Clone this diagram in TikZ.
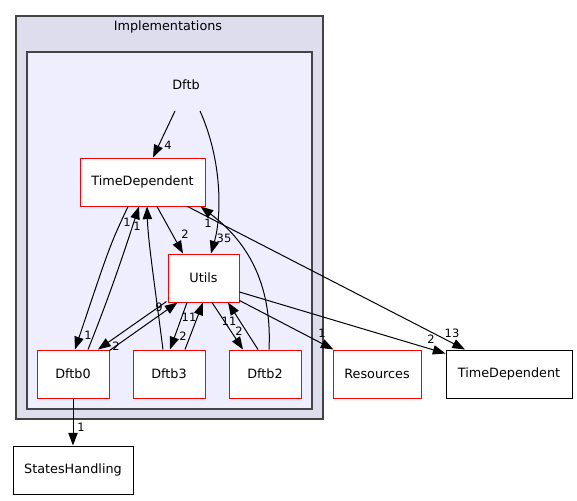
\documentclass[tikz,border=0pt]{standalone}
\usepackage{fontspec}
\setmainfont{DejaVu Sans}
\usetikzlibrary{calc,arrows.meta}
\definecolor{outerfill}{HTML}{DDDDEE}
\definecolor{innerfill}{HTML}{EEEEFF}
\definecolor{clusterline}{HTML}{444444}
\tikzset{
  box/.style={draw=red, fill=white, line width=0.75pt, minimum height=36pt, inner sep=0pt, font=\fontsize{9.6}{11}\selectfont},
  extbox/.style={box, draw=black},
  edge/.style={draw=black, line width=0.75pt, -{Triangle[length=9.5pt,width=7pt]}},
  elabel/.style={font=\fontsize{8.6}{10}\selectfont, inner sep=0pt},
  ctitle/.style={font=\fontsize{9.6}{11}\selectfont, inner sep=0pt}
}
\begin{document}
\begin{tikzpicture}[x=0.75pt,y=-0.75pt]
\useasboundingbox (0,0) rectangle (577,500);
% clusters
\draw[fill=outerfill, draw=clusterline, line width=1.1pt] (16,16) rectangle (323,419);
\node[ctitle] (impl) at (168,27) {Implementations};
\draw[fill=innerfill, draw=clusterline, line width=0.9pt] (27,52) rectangle (312,409);
\node[ctitle] (dftb) at (186,85) {Dftb};
% nodes
\node[box, minimum width=93.75pt] (td) at (142.5,182) {TimeDependent};
\node[box, minimum width=53.25pt] (utils) at (203.5,278) {Utils};
\node[box, minimum width=54pt] (dftb0) at (73,374) {Dftb0};
\node[box, minimum width=54pt] (dftb3) at (169,374) {Dftb3};
\node[box, minimum width=54pt] (dftb2) at (265,374) {Dftb2};
\node[box, minimum width=66pt] (res) at (377,374) {Resources};
\node[extbox, minimum width=94.5pt] (tdo) at (509,374) {TimeDependent};
\node[extbox, minimum width=90pt] (sh) at (73,470) {StatesHandling};
% edges
\draw[edge] ($(dftb)+(-11,26)$) -- ($(td.north)+(10.5,0)$);
\node[elabel] (l4) at (168,145) {4};
\draw[edge] ($(dftb)+(14,26)$) .. controls (222,160) and (222,215) .. ($(utils.north)+(7.5,0)$);
\node[elabel] (l35) at (224,238) {35};
\draw[edge] ($(td.south)+(14.5,0)$) -- ($(utils.north)+(-20.5,0)$);
\node[elabel] (l2a) at (185,234) {2};
\draw[edge] ($(td.south)+(-14.5,0)$) .. controls (110,245) .. ($(dftb0.north)+(2,0)$);
\node[elabel] (l1a) at (88,335) {1};
\draw[edge] ($(dftb0.north)+(15,0)$) .. controls (112,290) and (128,240) .. ($(td.south)+(-3.5,0)$);
\node[elabel] (l1b) at (127,222) {1};
\draw[edge] ($(dftb3.north)+(-6,0)$) .. controls (154,280) and (148,240) .. ($(td.south)+(4.5,0)$);
\node[elabel] (l1c) at (137,226) {1};
\draw[edge] ($(dftb2.north)+(4,0)$) .. controls (272,290) and (252,245) .. ($(td.south east)+(-5,0)$);
\node[elabel] (l1d) at (208,223) {1};
\draw[edge] ($(td.south east)+(-18,0)$) -- ($(tdo.north)+(-44,0)$);
\node[elabel] (l13) at (452,333) {13};
\draw[edge] ($(utils.south west)+(-1,-1)$) -- ($(dftb0.north)+(25,0)$);
\node[elabel] (l2b) at (116,346) {2};
\draw[edge] ($(dftb0.north east)+(0,1)$) -- ($(utils.south west)+(10,0)$);
\node[elabel] (l9) at (159,307) {9};
\draw[edge] ($(utils.south)+(-16.5,0)$) -- ($(dftb3.north)+(1,0)$);
\node[elabel] (l2c) at (183,336) {2};
\draw[edge] ($(dftb3.north)+(16,0)$) -- ($(utils.south)+(-0.5,0)$);
\node[elabel] (l11a) at (189,317) {11};
\draw[edge] ($(utils.south)+(8.5,0)$) -- ($(dftb2.north)+(-22,0)$);
\node[elabel] (l2d) at (239,331) {2};
\draw[edge] ($(dftb2.north)+(-7,0)$) -- ($(utils.south)+(24.5,0)$);
\node[elabel] (l11b) at (229,321) {11};
\draw[edge] ($(utils.south east)+(0,-2)$) -- ($(res.north west)+(1,0)$);
\node[elabel] (l1e) at (322,333) {1};
\draw[edge] ($(utils.east)+(0,14)$) -- ($(tdo.north west)+(0,4)$);
\node[elabel] (l2e) at (431,339) {2};
\draw[edge] (dftb0.south) -- (sh.north);
\node[elabel] (l1f) at (81,427) {1};
\end{tikzpicture}
\end{document}
